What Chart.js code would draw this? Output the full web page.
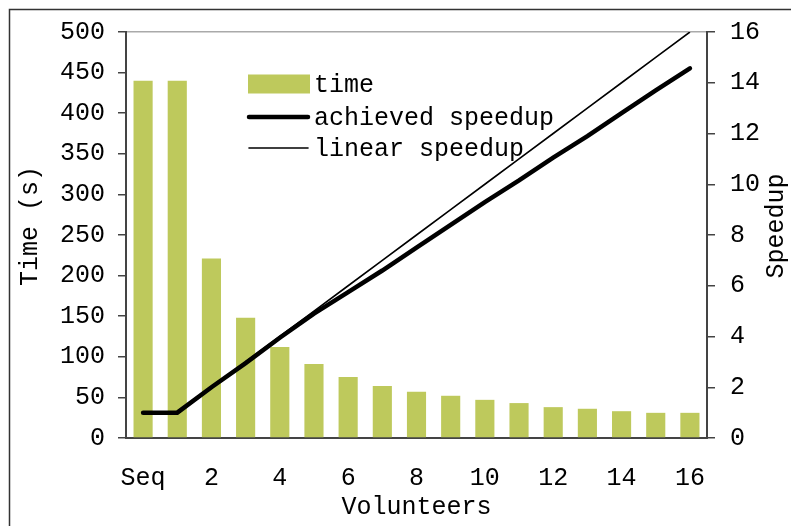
<!DOCTYPE html>
<html>
<head>
<meta charset="utf-8">
<script src="https://cdn.jsdelivr.net/npm/chart.js@4/dist/chart.umd.min.js"></script>
<style>
  html, body { margin: 0; padding: 0; background: #fff; }
  #wrap { width: 791px; height: 526px; position: relative; }
</style>
</head>
<body>
<div id="wrap"><canvas id="c" width="791" height="526"></canvas></div>
<script>
const categories = ['Seq', '1', '2', '3', '4', '5', '6', '7', '8', '9', '10', '11', '12', '13', '14', '15', '16'];
const timeSeconds = [440, 440, 221, 148, 112, 91, 75, 64, 57, 52, 47, 43, 38, 36, 33, 31, 31];
const achievedSpeedup = [1, 1, 2.0, 2.95, 3.95, 4.9, 5.75, 6.6, 7.5, 8.4, 9.3, 10.15, 11.05, 11.9, 12.8, 13.7, 14.57];
const linearSpeedup = [null, 1, 2, 3, 4, 5, 6, 7, 8, 9, 10, 11, 12, 13, 14, 15, 16];
const legendLabels = ['time', 'achieved speedup', 'linear speedup'];
const leftAxisTitle = 'Time (s)';
const rightAxisTitle = 'Speedup';
const bottomAxisTitle = 'Volunteers';

const FONT = '"Courier New", "Liberation Mono", monospace';
const FS = 25;
const BAR_COLOR = '#bec95c';
const AXIS_COLOR = '#444';

const framePlugin = {
  id: 'frame',
  beforeDraw(chart) {
    const ctx = chart.ctx;
    ctx.save();
    ctx.fillStyle = '#fff';
    ctx.fillRect(0, 0, chart.width, chart.height);
    ctx.strokeStyle = '#333';
    ctx.lineWidth = 1.5;
    ctx.strokeRect(9.5, 9.5, chart.width + 20, chart.height + 20);
    ctx.restore();
  },
  afterDraw(chart) {
    // vertical axis titles, both reading bottom-to-top
    const ctx = chart.ctx;
    const area = chart.chartArea;
    const mid = (area.top + area.bottom) / 2 - 9;
    const titles = [
      [leftAxisTitle, chart.scales.y.left + 30],
      [rightAxisTitle, chart.scales.y1.right - 15]
    ];
    ctx.save();
    ctx.font = FS + 'px ' + FONT;
    ctx.fillStyle = '#000';
    ctx.textAlign = 'center';
    ctx.textBaseline = 'middle';
    titles.forEach(([text, x]) => {
      ctx.save();
      ctx.translate(x, mid);
      ctx.rotate(-Math.PI / 2);
      ctx.fillText(text, 0, 0);
      ctx.restore();
    });
    ctx.restore();
  }
};

const legendPlugin = {
  id: 'customLegend',
  afterDatasetsDraw(chart) {
    const ctx = chart.ctx;
    const byLabel = {};
    chart.data.datasets.forEach(d => { byLabel[d.label] = d; });
    const x0 = 248, w = 62, tx = 314;
    const rows = [84, 117, 148];
    ctx.save();
    const bar = byLabel[legendLabels[0]];
    ctx.fillStyle = bar.backgroundColor;
    ctx.fillRect(x0, rows[0] - 9.5, w, 19);
    for (let i = 1; i < 3; i++) {
      const d = byLabel[legendLabels[i]];
      ctx.strokeStyle = d.borderColor;
      ctx.lineWidth = d.borderWidth;
      ctx.lineCap = 'round';
      ctx.beginPath();
      ctx.moveTo(x0 + 1, rows[i]);
      ctx.lineTo(x0 + w - 2, rows[i]);
      ctx.stroke();
    }
    ctx.font = FS + 'px ' + FONT;
    ctx.textBaseline = 'middle';
    ctx.textAlign = 'left';
    ctx.fillStyle = '#000';
    for (let i = 0; i < 3; i++) {
      ctx.fillText(legendLabels[i], tx, rows[i] + 1);
    }
    ctx.restore();
  }
};

new Chart(document.getElementById('c'), {
  data: {
    labels: categories,
    datasets: [
      {
        type: 'line',
        label: legendLabels[1],
        data: achievedSpeedup,
        yAxisID: 'y1',
        borderColor: '#000',
        borderWidth: 4.5,
        pointRadius: 0,
        tension: 0,
        borderCapStyle: 'round',
        order: 1
      },
      {
        type: 'line',
        label: legendLabels[2],
        data: linearSpeedup,
        yAxisID: 'y1',
        borderColor: '#000',
        borderWidth: 1.6,
        pointRadius: 0,
        tension: 0,
        order: 2
      },
      {
        type: 'bar',
        label: legendLabels[0],
        data: timeSeconds,
        yAxisID: 'y',
        backgroundColor: BAR_COLOR,
        categoryPercentage: 1,
        barPercentage: 0.56,
        order: 3
      }
    ]
  },
  options: {
    responsive: false,
    animation: false,
    devicePixelRatio: 1,
    layout: { padding: { left: 0, right: 0, top: 32, bottom: 0 } },
    plugins: {
      legend: { display: false },
      tooltip: { enabled: false }
    },
    scales: {
      x: {
        offset: true,
        grid: { display: false, drawTicks: false },
        border: { display: true, color: AXIS_COLOR, width: 2 },
        ticks: {
          autoSkip: false,
          maxRotation: 0,
          padding: 25,
          color: '#000',
          font: { family: FONT, size: FS },
          callback: function (v, i) { return i % 2 === 0 ? categories[i] : ''; }
        },
        title: {
          display: true,
          text: bottomAxisTitle,
          color: '#000',
          font: { family: FONT, size: FS },
          padding: { top: 0, bottom: 4 }
        },
        afterFit(scale) { scale.height = 88; }
      },
      y: {
        position: 'left',
        min: 0,
        max: 500,
        ticks: {
          stepSize: 50,
          padding: 13,
          color: '#000',
          font: { family: FONT, size: FS }
        },
        grid: {
          drawOnChartArea: true,
          drawTicks: true,
          tickLength: 8,
          tickColor: AXIS_COLOR,
          lineWidth: 1.5,
          color: (c) => (c.tick && c.tick.value === 500 ? '#aaa' : 'rgba(0,0,0,0)')
        },
        border: { display: true, color: AXIS_COLOR, width: 2 },
        title: { display: false },
        afterFit(scale) { scale.width = 126; }
      },
      y1: {
        position: 'right',
        min: 0,
        max: 16,
        ticks: {
          stepSize: 2,
          padding: 15,
          color: '#000',
          font: { family: FONT, size: FS }
        },
        grid: {
          drawOnChartArea: false,
          drawTicks: true,
          tickLength: 8,
          tickColor: AXIS_COLOR,
          lineWidth: 1.5
        },
        border: { display: true, color: AXIS_COLOR, width: 2 },
        title: { display: false },
        afterFit(scale) { scale.width = 84; }
      }
    }
  },
  plugins: [framePlugin, legendPlugin]
});
</script>
</body>
</html>
